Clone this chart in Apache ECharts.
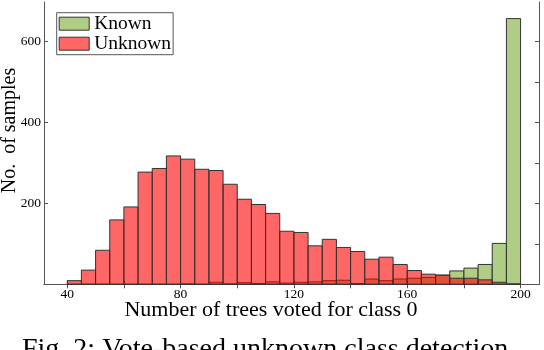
<!DOCTYPE html>
<html>
<head>
<meta charset="utf-8">
<script src="https://cdn.jsdelivr.net/npm/echarts@6/dist/echarts.min.js"></script>
<style>html,body{margin:0;padding:0;background:#fff}#c{width:544px;height:350px}</style>
</head>
<body>
<div id="c"></div>
<script>
// bin starts (bin width 5)
const binStarts = [40,45,50,55,60,65,70,75,80,85,90,95,100,105,110,115,120,125,130,135,140,145,150,155,160,165,170,175,180,185,190,195];
const binWidth = 5;
const knownCounts = [0,0,0,0,0,0,0,0,1,0,5,1,4,2,6,3,5,6,9,10,2,13,9,13,15,17,22,33,40,49,101,656];
const unknownCounts = [9,35,84,159,191,277,286,317,309,284,281,247,210,197,175,131,128,95,111,91,81,62,67,49,34,25,23,15,15,11,5,1];
const xTickLabels = [40,80,120,160,200];
const xTicks = [40,60,80,100,120,140,160,180,200];
const yTickLabels = [200,400,600];
const yTicksRight = [100,200,300,400,500,600];
const seriesNames = ['Known','Unknown'];
const caption = 'Fig. 2: Vote-based unknown class detection.';
const xLabel = 'Number of trees voted for class 0';
const yLabel = 'No.  of samples';

const FONT = 'Liberation Serif';
const binData = vals => binStarts.map((s,i)=>[s, s+binWidth, vals[i]]);
function renderBar(params, api){
  const p0 = api.coord([api.value(0), 0]);
  const p1 = api.coord([api.value(1), api.value(2)]);
  return {type:'rect', shape:{x:p0[0], y:p1[1], width:p1[0]-p0[0], height:p0[1]-p1[1]},
    style:{fill:api.visual('color'), stroke:'#333', lineWidth:1}};
}
const chart = echarts.init(document.getElementById('c'));
const axisLineStyle = {color:'#555', width:1};
chart.setOption({
  animation:false,
  backgroundColor:'#fff',
  grid:{left:44, right:5, top:2, bottom:65.7},
  legend:{
    orient:'vertical', left:56.7, top:12.7, data:seriesNames,
    icon:'rect', itemWidth:30, itemHeight:13, itemGap:0, itemTextGap:2,
    padding:[1,2,1,2], borderColor:'#555', borderWidth:1, backgroundColor:'#fff',
    itemStyle:{borderColor:'#333', borderWidth:1},
    textStyle:{fontFamily:FONT, fontSize:19.5, color:'#000', lineHeight:17, padding:0}
  },
  xAxis:[
    {type:'value', min:31.8, max:206.5, position:'bottom',
     axisLine:{show:true, lineStyle:axisLineStyle}, splitLine:{show:false},
     axisTick:{show:true, inside:true, length:4, customValues:xTicks, lineStyle:axisLineStyle},
     axisLabel:{customValues:xTickLabels, fontFamily:FONT, fontSize:13.5, color:'#000', margin:3}},
    {type:'value', min:31.8, max:206.5, position:'top',
     axisLine:{show:true, lineStyle:axisLineStyle}, splitLine:{show:false},
     axisTick:{show:true, inside:true, length:4, customValues:xTicks, lineStyle:axisLineStyle},
     axisLabel:{show:false}}
  ],
  yAxis:[
    {type:'value', min:0, max:697, position:'left',
     axisLine:{show:true, lineStyle:axisLineStyle}, splitLine:{show:false},
     axisTick:{show:true, inside:true, length:4, customValues:yTickLabels, lineStyle:axisLineStyle},
     axisLabel:{customValues:yTickLabels, fontFamily:FONT, fontSize:13.5, color:'#000', margin:3}},
    {type:'value', min:0, max:697, position:'right',
     axisLine:{show:true, lineStyle:axisLineStyle}, splitLine:{show:false},
     axisTick:{show:true, inside:true, length:4, customValues:yTicksRight, lineStyle:axisLineStyle},
     axisLabel:{show:false}}
  ],
  series:[
    {name:seriesNames[0], type:'custom', renderItem:renderBar, data:binData(knownCounts),
     itemStyle:{color:'#afcd85'}, encode:{x:[0,1], y:2}, z:2},
    {name:seriesNames[1], type:'custom', renderItem:renderBar, data:binData(unknownCounts),
     itemStyle:{color:'rgba(255,0,0,0.6)'}, encode:{x:[0,1], y:2}, z:3}
  ],
  graphic:[
    {type:'text', x:271, y:299, style:{text:xLabel, font:'22px "Liberation Serif"', fill:'#000', textAlign:'center', textVerticalAlign:'top'}},
    {type:'text', x:10, y:130.5, rotation:Math.PI/2, style:{text:yLabel, font:'20px "Liberation Serif"', fill:'#000', textAlign:'center', textVerticalAlign:'middle'}},
    {type:'text', x:22, y:336, style:{text:caption, font:'28px "Liberation Serif"', fill:'#000', textAlign:'left', textVerticalAlign:'top'}}
  ]
});
</script>
</body>
</html>
